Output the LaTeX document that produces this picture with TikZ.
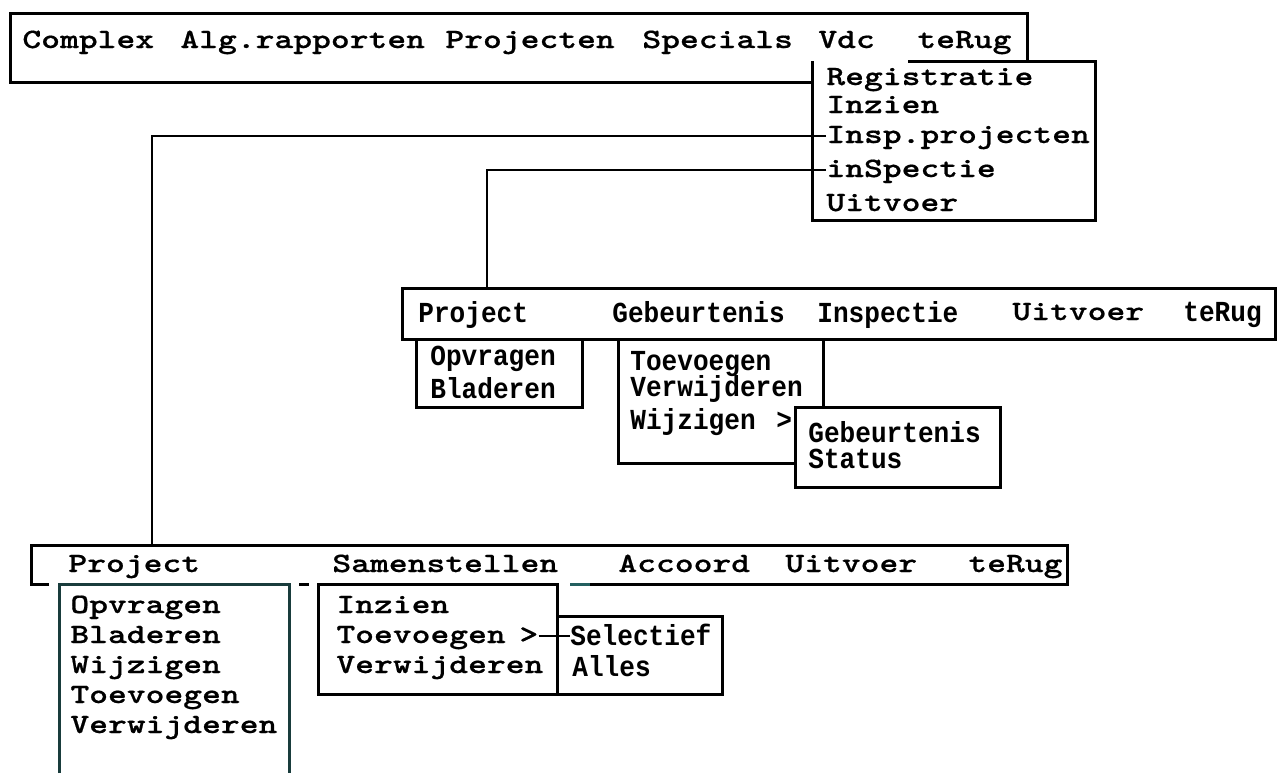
\documentclass[tikz,border=0pt]{standalone}
\usepackage{fontspec}
\usetikzlibrary{calc}
\newfontfamily\dosserif{lmmonolt10-bold.otf}[FakeStretch=1.28, FakeBold=0.6]
\newfontfamily\dossans{Liberation Mono Bold}[FakeStretch=0.9]
\definecolor{dosteal}{RGB}{35,95,95}
\definecolor{dosdark}{RGB}{25,60,60}

\begin{document}
\begin{tikzpicture}[
    x=0.5pt, y=-0.5pt,
    frame/.style={line width=1.5pt},
    tealframe/.style={frame, draw=dosdark},
    link/.style={line width=0.8pt},
    srf/.style={font=\dosserif\fontsize{14pt}{16pt}\selectfont, anchor=base west, inner sep=0pt, text height=8.6pt, text depth=1.4pt},
    sns/.style={font=\dossans\fontsize{14.5pt}{16pt}\selectfont, anchor=base west, inner sep=0pt, text height=9.6pt, text depth=1.3pt}
]
\useasboundingbox (0,0) rectangle (1279,773);

% Main menu bar
\draw[frame] (10,13) rectangle (1027,82);
\node[srf] (complex) at (22,48) {Complex};
\node[srf] (algrap) at (180,48) {Alg.rapporten};
\node[srf] (projecten) at (445,48) {Projecten};
\node[srf] (specials) at (642,48) {Specials};
\node[srf] (vdc) at (818,48) {Vdc};
\node[srf] (terug) at (917,48) {teRug};

% Vdc dropdown
\fill[white] (812,61) rectangle (1095,220);
\draw[frame] (908,61) -- (1095,61) -- (1095,220) -- (812,220) -- (812,61);
\node[srf] (registratie) at (826,85) {Registratie};
\node[srf] (inzien) at (826,113) {Inzien};
\node[srf] (insp) at (826,143) {Insp.projecten};
\node[srf] (inspectie) at (826,177) {inSpectie};
\node[srf] (uitvoer) at (826,211) {Uitvoer};

% Inspectie menu
\draw[frame] (402,288) rectangle (1275,339);
\node[sns] (mproject) at (418,322) {Project};
\node[sns] (mgebeurt) at (612,322) {Gebeurtenis};
\node[sns] (minspectie) at (817,322) {Inspectie};
\node[srf] (muitvoer) at (1012,320) {Uitvoer};
\node[sns] (mterug) at (1183,321) {teRug};

\draw[frame] (416,339) -- (416,407) -- (582,407) -- (582,339);
\node[sns] (mopvragen) at (430,365) {Opvragen};
\node[sns] (mbladeren) at (430,398) {Bladeren};

\draw[frame] (618,339) -- (618,463) -- (823,463) -- (823,339);
\node[sns] (mtoev) at (630,370) {Toevoegen};
\node[sns] (mverw) at (630,396) {Verwijderen};
\node[sns] (mwijz) at (630,429) {Wijzigen};
\node[sns] (mwijzarrow) at (776,429) {>};

\filldraw[frame, fill=white] (795,407) rectangle (1000,487);
\node[sns] (msubgeb) at (808,442) {Gebeurtenis};
\node[sns] (msubstatus) at (808,468) {Status};

% Insp.projecten menu
\draw[frame] (49,584) -- (31,584) -- (31,545) -- (1067,545) -- (1067,584) -- (590,584);
\draw[frame] (299,584) -- (309,584);
\draw[frame, draw=dosteal] (570,584) -- (590,584);
\node[srf] (bproject) at (68,572) {Project};
\node[srf] (bsamen) at (332,572) {Samenstellen};
\node[srf] (baccoord) at (618,572) {Accoord};
\node[srf] (buitvoer) at (785,572) {Uitvoer};
\node[srf] (bterug) at (968,572) {teRug};

\draw[tealframe] (59,773) -- (59,584) -- (289,584) -- (289,773);
\node[srf] (bopvragen) at (70,613) {Opvragen};
\node[srf] (bbladeren) at ([yshift=-15pt]bopvragen.base west) {Bladeren};
\node[srf] (bwijz) at ([yshift=-15pt]bbladeren.base west) {Wijzigen};
\node[srf] (btoev) at ([yshift=-15pt]bwijz.base west) {Toevoegen};
\node[srf] (bverw) at ([yshift=-15pt]btoev.base west) {Verwijderen};

\draw[frame] (318,584) rectangle (557,694);
\node[srf] (binzien) at (336,613) {Inzien};
\node[srf] (btoev2) at ([yshift=-15pt]binzien.base west) {Toevoegen};
\node[srf] (bverw2) at ([yshift=-15pt]btoev2.base west) {Verwijderen};
\node[srf] (btoevarrow) at (519,643) {>};

\draw[frame] (557,616) rectangle (722,694);
\node[sns] (bselectief) at (570,645) {Selectief};
\node[sns] (balles) at (572,676) {Alles};

% Connectors
\coordinate (insptap) at (152,545);
\coordinate (inspectietap) at (487,288);
\draw[link] (insp.west) -| (insptap);
\draw[link] (inspectie.west) -| (inspectietap);
\draw[link] (btoevarrow.east) -- (btoevarrow.east -| bselectief.west);

\end{tikzpicture}
\end{document}
